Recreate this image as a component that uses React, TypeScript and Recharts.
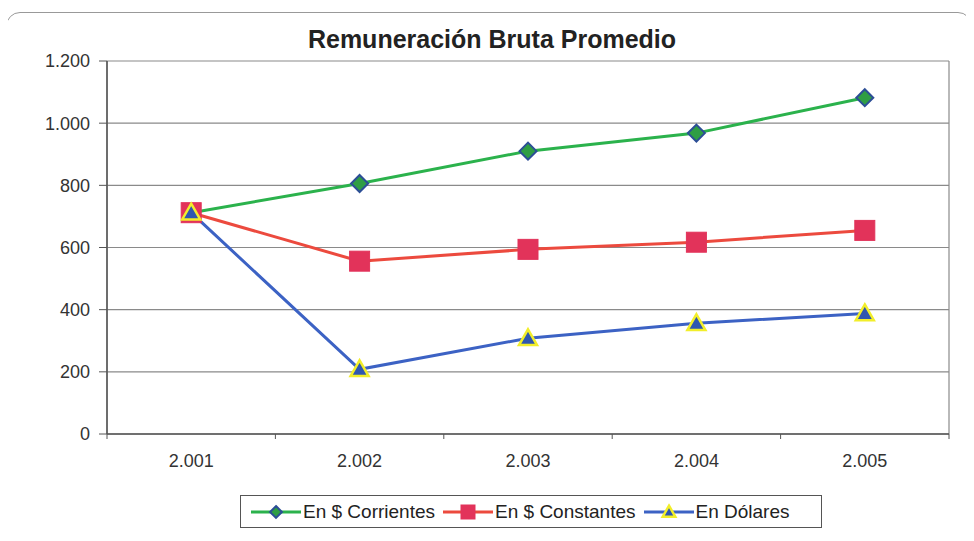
import { LineChart, Line, XAxis, YAxis, CartesianGrid, Legend } from "recharts"

const years = ["2.001", "2.002", "2.003", "2.004", "2.005"]
const corrientes = [712, 806, 910, 968, 1082]
const constantes = [712, 556, 594, 617, 655]
const dolares = [712, 208, 308, 356, 388]
const yTicks = [0, 200, 400, 600, 800, 1000, 1200]

const series = [
  { key: "corrientes", name: "En $ Corrientes", color: "#2bb24c", shape: "diamond" },
  { key: "constantes", name: "En $ Constantes", color: "#ec4a3e", shape: "square" },
  { key: "dolares", name: "En Dólares", color: "#3c62c4", shape: "triangle" },
]

const data = years.map((year, i) => ({
  year,
  corrientes: corrientes[i],
  constantes: constantes[i],
  dolares: dolares[i],
}))

const W = 974
const H = 541
const PLOT_LEFT = 107
const PLOT_RIGHT = 949
const BAND = (PLOT_RIGHT - PLOT_LEFT) / years.length
const FONT = "'Liberation Sans', Arial, sans-serif"

const fmt = (v: number) => String(v).replace(/\B(?=(\d{3})+(?!\d))/g, ".")

function Marker({ shape, cx, cy, size = 1 }: { shape: string; cx: number; cy: number; size?: number }) {
  if (cx == null || cy == null) return null
  if (shape === "diamond") {
    const r = 8.5 * size
    return (
      <polygon
        points={`${cx},${cy - r} ${cx + r},${cy} ${cx},${cy + r} ${cx - r},${cy}`}
        fill="#2f9e44"
        stroke="#2c4e96"
        strokeWidth={2}
      />
    )
  }
  if (shape === "square") {
    const r = 10 * size
    return <rect x={cx - r} y={cy - r} width={r * 2} height={r * 2} fill="#e2335a" stroke="#e2335a" />
  }
  const r = 9 * size
  return (
    <polygon
      points={`${cx},${cy - r} ${cx + r},${cy + r * 0.75} ${cx - r},${cy + r * 0.75}`}
      fill="#2f57b0"
      stroke="#f2ee2a"
      strokeWidth={2.5}
    />
  )
}

function XTick(props: any) {
  const { x, y, payload, index } = props
  const left = x - BAND / 2
  return (
    <g>
      <line x1={left} y1={y} x2={left} y2={y + 5} stroke="#555" />
      {index === years.length - 1 && <line x1={x + BAND / 2} y1={y} x2={x + BAND / 2} y2={y + 5} stroke="#555" />}
      <text x={x} y={y + 33} textAnchor="middle" fontSize={18} fill="#333" fontFamily={FONT}>
        {payload.value}
      </text>
    </g>
  )
}

function LegendBox() {
  return (
    <div
      style={{
        border: "1px solid #555",
        height: 31,
        display: "flex",
        alignItems: "center",
        paddingLeft: 8,
        fontFamily: FONT,
        fontSize: 19,
        color: "#222",
        background: "#fff",
      }}
    >
      {series.map((s) => (
        <div key={s.key} style={{ display: "flex", alignItems: "center", marginRight: 6 }}>
          <svg width={54} height={20}>
            <line x1={2} y1={10} x2={52} y2={10} stroke={s.color} strokeWidth={3} />
            <Marker shape={s.shape} cx={27} cy={10} size={0.7} />
          </svg>
          <span>{s.name}</span>
        </div>
      ))}
    </div>
  )
}

export default function App() {
  return (
    <div style={{ position: "relative", width: W, height: H, margin: -8, background: "#fff", overflow: "hidden" }}>
      <div
        style={{
          position: "absolute",
          left: 6,
          top: 12,
          width: 964,
          height: 540,
          border: "1px solid #999",
          borderRadius: 14,
        }}
      />
      <div
        style={{
          position: "absolute",
          left: 0,
          top: 25,
          width: 984,
          textAlign: "center",
          fontFamily: FONT,
          fontWeight: "bold",
          fontSize: 25,
          color: "#222",
        }}
      >
        Remuneración Bruta Promedio
      </div>
      <LineChart
        width={W}
        height={H}
        data={data}
        margin={{ top: 61, right: W - PLOT_RIGHT, left: 0, bottom: 13 }}
        style={{ position: "absolute", left: 0, top: 0 }}
      >
        <CartesianGrid
          stroke="#8a8a8a"
          strokeWidth={1.2}
          verticalCoordinatesGenerator={() => [PLOT_LEFT, PLOT_RIGHT]}
        />
        <XAxis
          dataKey="year"
          height={61}
          padding={{ left: BAND / 2, right: BAND / 2 }}
          tickLine={false}
          tickSize={0}
          tickMargin={0}
          axisLine={{ stroke: "#555", strokeWidth: 1.5 }}
          tick={<XTick />}
          interval={0}
        />
        <YAxis
          width={PLOT_LEFT}
          domain={[0, 1200]}
          ticks={yTicks}
          tickFormatter={fmt}
          tickSize={8}
          tickMargin={9}
          axisLine={{ stroke: "#555", strokeWidth: 1.5 }}
          tickLine={{ stroke: "#555" }}
          tick={{ fontSize: 18, fill: "#333", fontFamily: FONT }}
        />
        <Legend
          verticalAlign="bottom"
          content={<LegendBox />}
          wrapperStyle={{ left: 240, width: 582, bottom: 13, height: 33 }}
        />
        {series.map((s) => (
          <Line
            key={s.key}
            dataKey={s.key}
            name={s.name}
            stroke={s.color}
            strokeWidth={3}
            isAnimationActive={false}
            dot={(p: any) => <Marker key={`${s.key}-${p.index}`} shape={s.shape} cx={p.cx} cy={p.cy} />}
            activeDot={false}
          />
        ))}
      </LineChart>
    </div>
  )
}
